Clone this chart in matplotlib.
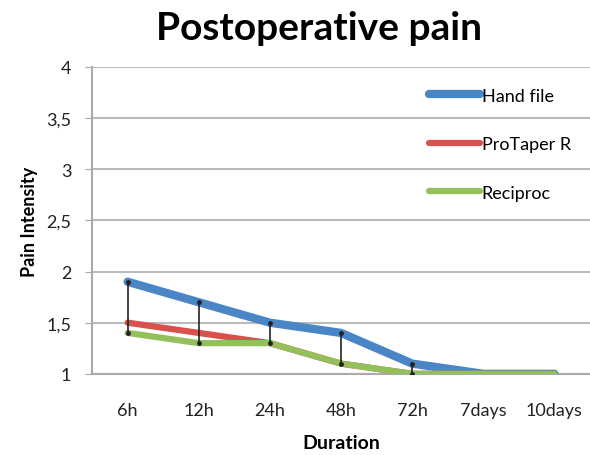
import matplotlib.pyplot as plt

plt.rcParams['font.family'] = ['Lato', 'DejaVu Sans']

durations = ["6h", "12h", "24h", "48h", "72h", "7days", "10days"]
hand_file = [1.9, 1.7, 1.5, 1.4, 1.1, 1.0, 1.0]
protaper = [1.5, 1.4, 1.3, 1.1, 1.0, 1.0, 1.0]
reciproc = [1.4, 1.3, 1.3, 1.1, 1.0, 1.0, 1.0]

fig = plt.figure(figsize=(5.9, 4.56), dpi=100)
ax = fig.add_axes([0.156, 0.178, 0.844, 0.673])

x = list(range(len(durations)))
ax.plot(x, hand_file, color="#4a86c6", lw=6, solid_capstyle="round", label="Hand file", zorder=3)
ax.plot(x, protaper, color="#d9504c", lw=4.5, solid_capstyle="round", label="ProTaper R", zorder=4)
ax.plot(x, reciproc, color="#93c05a", lw=4.5, solid_capstyle="round", label="Reciproc", zorder=5)

# high-low lines
for i in x:
    hi = max(hand_file[i], protaper[i], reciproc[i])
    lo = min(hand_file[i], protaper[i], reciproc[i])
    if hi - lo > 0:
        ax.plot([i, i], [lo, hi], color="#222222", lw=1.2, zorder=6)
        ax.plot([i, i], [lo, hi], ls="none", marker="o", ms=2.5, color="#222222", zorder=6)

ax.set_xlim(-0.5, 6.5)
ax.set_ylim(1, 4)
ax.set_yticks([1, 1.5, 2, 2.5, 3, 3.5, 4])
ax.set_yticklabels(["1", "1,5", "2", "2,5", "3", "3,5", "4"], fontsize=13, color="#222222")
ax.set_xticks(x)
ax.set_xticklabels(durations, fontsize=13, color="#222222")
ax.tick_params(axis="x", length=0, pad=20)
ax.tick_params(axis="y", length=5, color="#aaaaaa", pad=10)
ax.grid(axis="y", color="#bbbbbb", lw=1.5)
ax.set_axisbelow(True)
for s in ["top", "right"]:
    ax.spines[s].set_visible(False)
ax.spines["left"].set_color("#aaaaaa")
ax.spines["left"].set_linewidth(1.5)
ax.spines["bottom"].set_color("#aaaaaa")
ax.spines["bottom"].set_linewidth(1.5)

ax.set_ylabel("Pain Intensity", fontsize=13, fontweight="bold", labelpad=6)
ax.set_xlabel("Duration", fontsize=14, fontweight="bold", labelpad=12)
fig.suptitle("Postoperative pain", fontsize=28, fontweight="bold", x=0.54, y=0.975)

leg = ax.legend(loc="upper left", bbox_to_anchor=(0.645, 0.985), frameon=False,
                fontsize=13, handlelength=2.8, handletextpad=0.1, labelspacing=1.8)

fig.savefig("out.png", dpi=100)
